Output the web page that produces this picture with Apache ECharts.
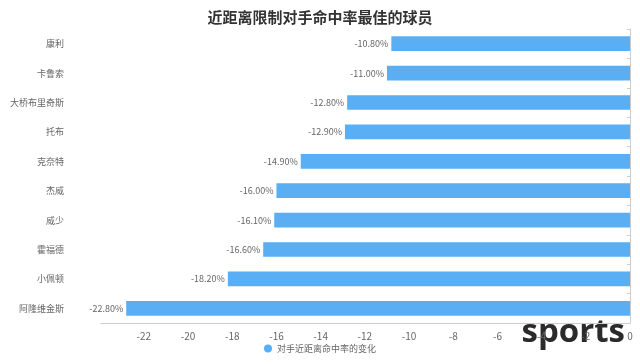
<!DOCTYPE html>
<html><head><meta charset="utf-8">
<script src="https://cdn.jsdelivr.net/npm/echarts@6/dist/echarts.min.js"></script>
<style>html,body{margin:0;padding:0;background:#fff}#c{width:640px;height:364px}</style>
</head><body><div id="c"></div>
<script>
const title = '近距离限制对手命中率最佳的球员';
const seriesName = '对手近距离命中率的变化';
const players = ['阿隆维金斯','小佩顿','霍福德','威少','杰威','克奈特','托布','大桥布里奇斯','卡鲁索','康利'];
const changes = [-22.8, -18.2, -16.6, -16.1, -16.0, -14.9, -12.9, -12.8, -11.0, -10.8];
const axisMin = -23.94;

const chart = echarts.init(document.getElementById('c'));
chart.setOption({
  animation: false,
  textStyle: {fontFamily: '"Noto Sans CJK SC", "Noto Sans", sans-serif'},
  title: {text: title, left: 'center', top: 5,
    textStyle: {fontSize: 15, fontWeight: 'bold', color: '#333'}},
  legend: {bottom: 6, left: 'center', icon: 'circle', itemWidth: 8, itemHeight: 8, itemGap: 4,
    textStyle: {fontSize: 9, color: '#666'}},
  grid: {left: 101, right: 10, top: 29, bottom: 41},
  xAxis: {type: 'value', min: axisMin, max: 0, splitNumber: 12,
    splitLine: {show: false}, axisTick: {show: false},
    axisLine: {show: true, lineStyle: {color: '#ccc'}},
    axisLabel: {showMinLabel: false, color: '#666', fontSize: 10, margin: 8}},
  yAxis: [
    {type: 'category', data: players, position: 'left',
      axisLine: {show: false, onZero: false}, axisTick: {show: false},
      axisLabel: {color: '#666', fontSize: 9, margin: 37}},
    {type: 'category', data: players, position: 'right',
      axisLine: {show: true, onZero: false, lineStyle: {color: '#ccc'}},
      axisTick: {show: true, inside: true, length: 3, lineStyle: {color: '#ccc'}},
      axisLabel: {show: false}}
  ],
  series: [{
    name: seriesName, type: 'bar', data: changes, barWidth: '50%',
    itemStyle: {color: '#5aaef4'},
    label: {show: true, position: 'left', distance: 3, color: '#666', fontSize: 9,
      formatter: p => p.value.toFixed(2) + '%'}
  }],
  graphic: [{type: 'text', right: 15, top: 316,
    style: {text: 'sports', font: 'bold 33px "Open Sans", "DejaVu Sans", sans-serif', fill: '#2b2b2b'}}]
});
</script></body></html>
